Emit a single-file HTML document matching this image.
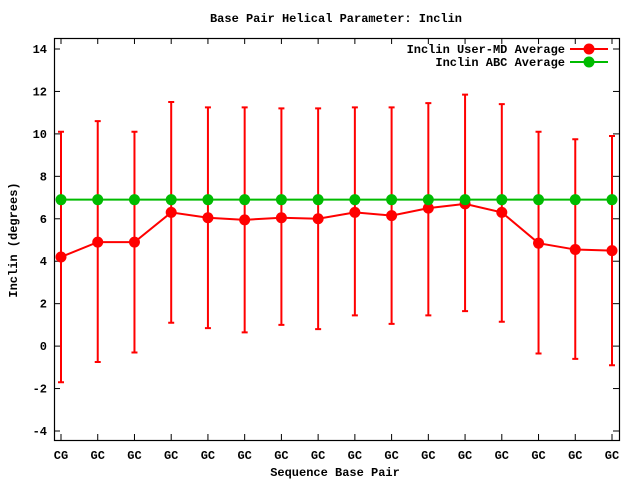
<!DOCTYPE html>
<html><head><meta charset="utf-8"><style>
body{margin:0;background:#fff}
svg{display:block;font-family:"Liberation Mono","DejaVu Sans Mono",monospace;font-weight:bold;font-size:12px}
</style></head><body>
<svg id="chart" width="640" height="480">
<text x="336" y="22" text-anchor="middle">Base Pair Helical Parameter: Inclin</text>
<text x="335" y="476" text-anchor="middle">Sequence Base Pair</text>
<text transform="translate(17,240) rotate(-90)" text-anchor="middle">Inclin (degrees)</text>
<rect x="54.5" y="38.5" width="565" height="402" fill="none" stroke="#000" stroke-width="1.2"/>
<g id="axes"></g><g id="series"></g>
<g>
<text x="565" y="53" text-anchor="end">Inclin User-MD Average</text>
<line x1="570" y1="49" x2="608" y2="49" stroke="#f00" stroke-width="2"/>
<circle cx="589" cy="49" r="5.5" fill="#f00"/>
<text x="565" y="66" text-anchor="end">Inclin ABC Average</text>
<line x1="570" y1="62" x2="608" y2="62" stroke="#0b0" stroke-width="2"/>
<circle cx="589" cy="62" r="5.5" fill="#0b0"/>
</g>
</svg>
<script>
const categories=["CG","GC","GC","GC","GC","GC","GC","GC","GC","GC","GC","GC","GC","GC","GC","GC"];
const mdValues=[4.2,4.9,4.9,6.3,6.05,5.95,6.05,6.0,6.3,6.15,6.5,6.7,6.3,4.85,4.55,4.5];
const mdUpper=[10.1,10.6,10.1,11.5,11.25,11.25,11.2,11.2,11.25,11.25,11.45,11.85,11.4,10.1,9.75,9.9];
const mdLower=[-1.7,-0.75,-0.3,1.1,0.85,0.65,1.0,0.8,1.45,1.05,1.45,1.65,1.15,-0.35,-0.6,-0.9];
const abcValues=[6.9,6.9,6.9,6.9,6.9,6.9,6.9,6.9,6.9,6.9,6.9,6.9,6.9,6.9,6.9,6.9];
const yTicks=[-4,-2,0,2,4,6,8,10,12,14];
const NS="http://www.w3.org/2000/svg";
const xs=i=>61+i*(612-61)/(categories.length-1);
const ys=v=>49+(14-v)*(431-49)/18;
function mk(t,a,p){const e=document.createElementNS(NS,t);for(const k in a)e.setAttribute(k,a[k]);p.appendChild(e);return e;}
const ax=document.getElementById('axes'),sr=document.getElementById('series');
yTicks.forEach(v=>{const y=ys(v);
 const t=mk('line',{x1:54,x2:60,y1:y,y2:y,stroke:'#000'},ax);
 const t2=mk('line',{x1:613,x2:619,y1:y,y2:y,stroke:'#000'},ax);
 const l=mk('text',{x:47,y:y+4,'text-anchor':'end'},ax);l.textContent=v;});
categories.forEach((c,i)=>{const x=xs(i);
 const t=mk('line',{x1:x,x2:x,y1:440,y2:434,stroke:'#000'},ax);
 const t2=mk('line',{x1:x,x2:x,y1:38,y2:44,stroke:'#000'},ax);
 const l=mk('text',{x:x,y:459,'text-anchor':'middle'},ax);l.textContent=c;});
categories.forEach((c,i)=>{const x=xs(i);
 const e=mk('path',{d:`M${x},${ys(mdLower[i])}V${ys(mdUpper[i])}M${x-3},${ys(mdLower[i])}H${x+3}M${x-3},${ys(mdUpper[i])}H${x+3}`,stroke:'#f00','stroke-width':2,fill:'none'},sr);
 
 });
const gl=mk('polyline',{points:abcValues.map((v,i)=>xs(i)+','+ys(v)).join(' '),fill:'none',stroke:'#0b0','stroke-width':2},sr);


const rl=mk('polyline',{points:mdValues.map((v,i)=>xs(i)+','+ys(v)).join(' '),fill:'none',stroke:'#f00','stroke-width':2},sr);


mdValues.forEach((v,i)=>{const p=mk('circle',{cx:xs(i),cy:ys(v),r:5.5,fill:'#f00'},sr);
 
 });
abcValues.forEach((v,i)=>{const p=mk('circle',{cx:xs(i),cy:ys(v),r:5.5,fill:'#0b0'},sr);
 
 });
</script>
</body></html>
